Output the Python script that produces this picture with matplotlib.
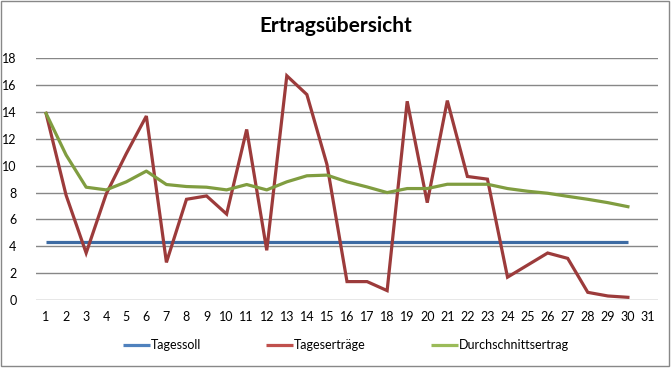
import matplotlib
matplotlib.use("Agg")
import matplotlib.pyplot as plt
from matplotlib.lines import Line2D
from matplotlib.patches import Rectangle

days = list(range(1, 31))
x_ticks = list(range(1, 32))
tagessoll = [4.35] * 30
tagesertraege = [13.9, 7.8, 3.5, 7.9, 10.9, 13.7, 2.8, 7.5, 7.75, 6.4,
                 12.7, 3.7, 16.7, 15.3, 10.1, 1.37, 1.37, 0.7, 14.8, 7.25,
                 14.85, 9.2, 9.0, 1.7, 2.6, 3.5, 3.1, 0.57, 0.3, 0.2]
durchschnitt = [13.9, 10.8, 8.4, 8.2, 8.8, 9.6, 8.6, 8.45, 8.4, 8.2,
                8.6, 8.2, 8.8, 9.25, 9.3, 8.8, 8.42, 8.0, 8.3, 8.3,
                8.62, 8.62, 8.62, 8.3, 8.1, 7.95, 7.72, 7.5, 7.25, 6.95]
y_ticks = [0, 2, 4, 6, 8, 10, 12, 14, 16, 18]
labels = ['Tagessoll', 'Tageserträge', 'Durchschnittsertrag']

plt.rcParams['font.family'] = ['Lato', 'DejaVu Sans']

W, H = 671, 370
fig = plt.figure(figsize=(W / 100, H / 100), dpi=100)
ax = fig.add_axes([36 / W, 1 - 300 / H, 622 / W, (300 - 58.3) / H])

c_blue, c_red, c_green = '#3D6BA3', '#9C3B3B', '#809D40'
ax.plot(days, tagessoll, color=c_blue, lw=2.3, solid_capstyle='butt', zorder=3)
ax.plot(days, tagesertraege, color=c_red, lw=2.3, solid_joinstyle='miter', zorder=4)
ax.plot(days, durchschnitt, color=c_green, lw=2.3, zorder=5)

ax.set_xlim(0.5, 31.5)
ax.set_ylim(0, 18)
ax.set_yticks(y_ticks)
ax.set_xticks(x_ticks)
ax.set_xticklabels([str(v) for v in x_ticks])
ax.grid(axis='y', color='#878787', lw=1)
ax.set_axisbelow(True)
for s in ax.spines.values():
    s.set_visible(False)
ax.tick_params(axis='both', length=0, labelsize=9, colors='black')
ax.tick_params(axis='x', pad=8)
ax.tick_params(axis='y', pad=14)

fig.text(336 / W, 1 - 26 / H, 'Ertragsübersicht', ha='center', va='center',
         fontsize=15, fontweight='bold')

# legend, drawn manually to match the spacing of the reference
leg_colors = ['#4F81BD', '#C0504D', '#9BBB59']
leg_x = [123, 266, 431]
ly = 1 - 345 / H
for x0, col, lab in zip(leg_x, leg_colors, labels):
    fig.add_artist(Line2D([x0 / W, (x0 + 27) / W], [ly, ly], color=col, lw=2.3,
                          transform=fig.transFigure, solid_capstyle='butt'))
    fig.text((x0 + 28) / W, ly, lab, ha='left', va='center', fontsize=9)

fig.patches.append(Rectangle((0.5 / W, 1 - 365.5 / H), 668 / W, 365 / H,
                             transform=fig.transFigure, fill=False,
                             edgecolor='#888888', lw=1))

fig.savefig('out.png', dpi=100)
